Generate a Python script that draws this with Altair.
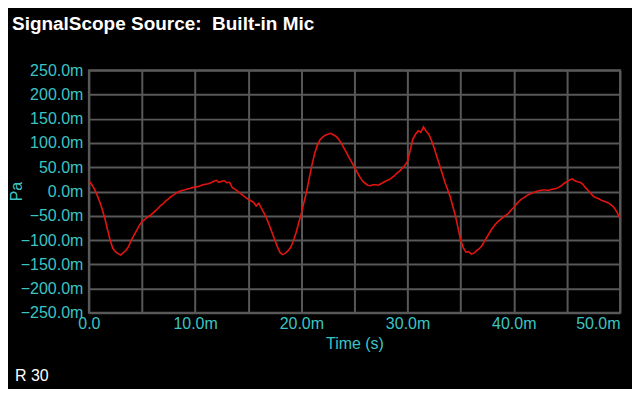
import altair as alt
import pandas as pd

title_text = ["SignalScope Source:\u00a0 Built-in Mic"]
corner_text = ["R 30"]

# time in ms (0.25 ms steps), pressure in mPa
time_ms = [i * 0.25 for i in range(201)]
pressure_mpa = [
    22, 15, 6, -6, -20, -36, -55, -78, -100, -117,
    -124, -128, -131, -126, -121, -113, -100, -90, -80, -70,
    -62, -58, -53, -50, -45, -40, -35, -29, -25, -19,
    -15, -10, -7, -3, 0, 2, 3, 5, 6, 8,
    9, 10, 12, 14, 15, 16, 18, 21, 23, 19,
    21, 22, 18, 19, 8, 5, 1, -4, -8, -12,
    -16, -19, -22, -30, -24, -35, -45, -57, -70, -85,
    -100, -114, -126, -130, -127, -122, -115, -102, -85, -65,
    -45, -22, 0, 28, 55, 78, 95, 106, 112, 116,
    118, 120, 117, 114, 108, 100, 90, 80, 70, 60,
    50, 40, 30, 22, 17, 13, 12, 14, 14, 13,
    16, 19, 22, 24, 28, 32, 38, 42, 48, 54,
    62, 85, 108, 118, 125, 122, 133, 124, 118, 105,
    90, 72, 55, 38, 20, 5, -10, -30, -50, -75,
    -100, -116, -125, -124, -129, -127, -122, -118, -112, -102,
    -93, -84, -75, -68, -62, -58, -53, -49, -45, -38,
    -33, -26, -20, -15, -12, -8, -5, -3, -1, 1,
    2, 3, 3, 2, 4, 5, 6, 9, 12, 17,
    20, 24, 26, 22, 20, 19, 15, 8, 2, -4,
    -10, -13, -15, -18, -20, -22, -25, -29, -35, -44,
    -55,
]

x_ticks = [0, 5, 10, 15, 20, 25, 30, 35, 40, 45, 50]
y_ticks = [-250, -200, -150, -100, -50, 0, 50, 100, 150, 200, 250]

df = pd.DataFrame({"t": time_ms, "v": pressure_mpa})

CYAN = "#3cc4c4"
GRID = "#585858"
FONT = "Liberation Sans"

line = alt.Chart(df).mark_line(color="#e3140f", strokeWidth=1.6).encode(
    x=alt.X(
        "t:Q",
        scale=alt.Scale(domain=[0, 50], nice=False, zero=False),
        axis=alt.Axis(
            values=x_ticks,
            title="Time (s)",
            labelExpr="datum.value % 10 == 0 ? (datum.value == 0 ? '0.0' : format(datum.value, '.1f') + 'm') : ''",
            labelAlign={"condition": {"test": "datum.value == 50", "value": "right"}, "value": "center"},
            labelPadding=3,
            titlePadding=4,
        ),
    ),
    y=alt.Y(
        "v:Q",
        scale=alt.Scale(domain=[-250, 250], nice=False),
        axis=alt.Axis(
            values=y_ticks,
            title="Pa",
            labelExpr="format(datum.value, '.1f') + 'm'",
            labelPadding=6,
            titleX=-72,
            titleY=121,
            titleAlign="center",
            titleBaseline="middle",
            titleAngle=270,
        ),
    ),
)

title = alt.Chart(pd.DataFrame({"s": title_text})).mark_text(
    align="left", baseline="alphabetic", font=FONT, fontSize=19, fontWeight="bold", color="white"
).encode(x=alt.value(-77), y=alt.value(-40), text="s:N")

corner = alt.Chart(pd.DataFrame({"s": corner_text})).mark_text(
    align="left", baseline="alphabetic", font=FONT, fontSize=16, color="white"
).encode(x=alt.value(-74), y=alt.value(311), text="s:N")

chart = alt.layer(line, title, corner).properties(
    width=532,
    height=243,
    background="black",
    autosize=alt.AutoSizeParams(type="none"),
    padding={"left": 81, "top": 62, "right": 12, "bottom": 76},
).configure_view(
    stroke=GRID, strokeWidth=2
).configure_axis(
    grid=True,
    gridColor=GRID,
    gridWidth=2,
    domain=False,
    ticks=False,
    labelColor=CYAN,
    labelFont=FONT,
    labelFontSize=16,
    titleColor=CYAN,
    titleFont=FONT,
    titleFontSize=16,
    titleFontWeight="normal",
)

chart.save("out.html", embed_options={"renderer": "svg", "actions": False})
